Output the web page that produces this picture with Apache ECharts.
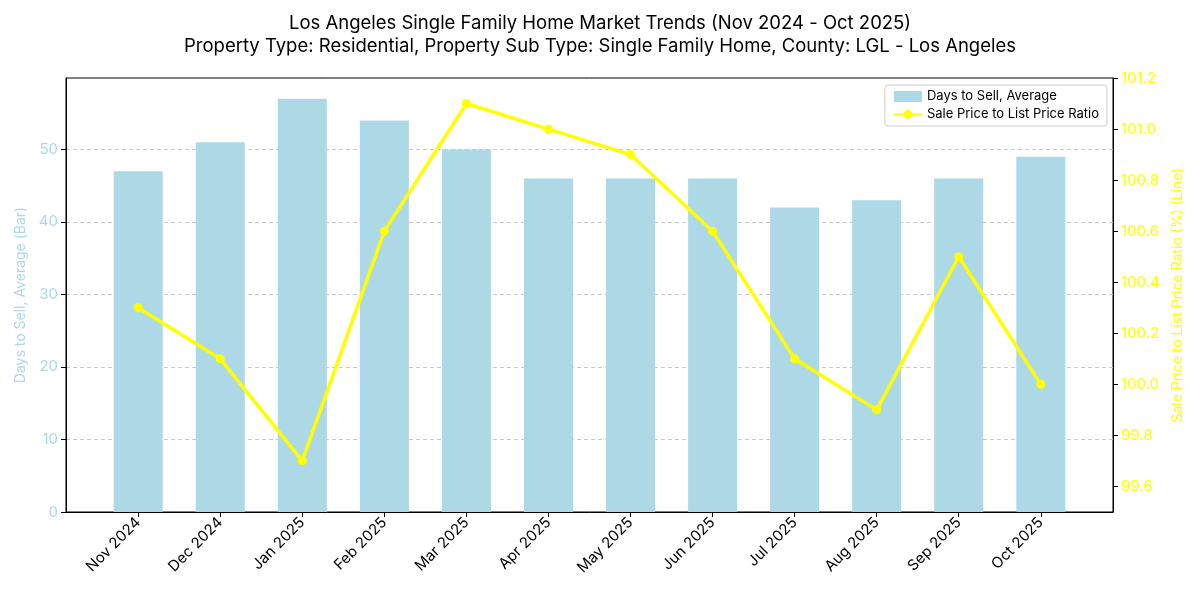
<!DOCTYPE html>
<html><head><meta charset="utf-8">
<script src="https://cdn.jsdelivr.net/npm/echarts@6/dist/echarts.min.js"></script>
<style>html,body{margin:0;padding:0;background:#fff}#c{width:1200px;height:600px}</style>
</head><body><div id="c"></div>
<script>
const categories = ['Nov 2024','Dec 2024','Jan 2025','Feb 2025','Mar 2025','Apr 2025','May 2025','Jun 2025','Jul 2025','Aug 2025','Sep 2025','Oct 2025'];
const daysToSell = [47, 51, 57, 54, 50, 46, 46, 46, 42, 43, 46, 49];
const priceRatio = [100.3, 100.1, 99.7, 100.6, 101.1, 101.0, 100.9, 100.6, 100.1, 99.9, 100.5, 100.0];
const leftTicks = [0, 10, 20, 30, 40, 50];
const rightTicks = [99.6, 99.8, 100.0, 100.2, 100.4, 100.6, 100.8, 101.0, 101.2];
const xTicks = categories.map((c, i) => i);

const FONT = 'Inter, "Open Sans", sans-serif';
const chart = echarts.init(document.getElementById('c'));
chart.setOption({
  animation: false,
  textStyle: { fontFamily: FONT },
  title: {
    text: 'Los Angeles Single Family Home Market Trends (Nov 2024 - Oct 2025)\nProperty Type: Residential, Property Sub Type: Single Family Home, County: LGL - Los Angeles',
    left: 'center', top: 7,
    textStyle: { fontSize: 18.5, fontWeight: 'normal', color: '#000', lineHeight: 23, fontFamily: FONT }
  },
  legend: {
    orient: 'vertical', right: 93, top: 85,
    backgroundColor: '#fff', borderColor: '#ccc', borderWidth: 1, borderRadius: 3,
    padding: [5, 8, 5, 8], itemGap: 5, itemWidth: 28, itemHeight: 11,
    textStyle: { fontSize: 13, color: '#000', fontFamily: FONT },
    data: [
      { name: 'Days to Sell, Average', icon: 'rect' },
      { name: 'Sale Price to List Price Ratio' }
    ]
  },
  grid: { left: 66, right: 87, top: 78, bottom: 88, show: true, borderColor: '#000', borderWidth: 1, containLabel: false },
  xAxis: {
    type: 'value', min: -0.88, max: 11.88,
    axisLine: { show: true, onZero: false, lineStyle: { color: '#000' } },
    axisTick: { show: true, length: 5, lineStyle: { color: '#000' }, customValues: xTicks },
    axisLabel: { customValues: xTicks, rotate: 45, fontSize: 15, color: '#000', margin: 8,
      formatter: v => categories[Math.round(v)] },
    splitLine: { show: false }
  },
  yAxis: [
    {
      type: 'value', min: 0, max: 59.85, position: 'left',
      name: 'Days to Sell, Average (Bar)', nameLocation: 'middle', nameGap: 38,
      nameTextStyle: { color: '#add8e6', fontSize: 14 },
      axisLine: { show: true, onZero: false, lineStyle: { color: '#000' } },
      axisTick: { show: true, length: 5, lineStyle: { color: '#000' }, customValues: leftTicks },
      axisLabel: { customValues: leftTicks, color: '#add8e6', fontSize: 15 },
      splitLine: { show: true, showMinLine: false, showMaxLine: true, lineStyle: { color: '#c8c8c8', type: [4, 3] } }
    },
    {
      type: 'value', min: 99.5, max: 101.2, position: 'right',
      name: 'Sale Price to List Price Ratio (%) (Line)', nameLocation: 'middle', nameGap: 58,
      nameTextStyle: { color: '#ffff00', fontSize: 14 },
      axisLine: { show: true, onZero: false, lineStyle: { color: '#000' } },
      axisTick: { show: true, length: 5, lineStyle: { color: '#000' }, customValues: rightTicks },
      axisLabel: { customValues: rightTicks, color: '#ffff00', fontSize: 15, formatter: v => v.toFixed(1) },
      splitLine: { show: false }
    }
  ],
  series: [
    {
      name: 'Days to Sell, Average', type: 'bar', yAxisIndex: 0, barWidth: 49,
      itemStyle: { color: '#add8e6' },
      data: daysToSell.map((v, i) => [i, v])
    },
    {
      name: 'Sale Price to List Price Ratio', type: 'line', yAxisIndex: 1,
      symbol: 'circle', symbolSize: 9,
      lineStyle: { color: '#ffff00', width: 3.5 },
      itemStyle: { color: '#ffff00' },
      data: priceRatio.map((v, i) => [i, v])
    }
  ]
});
</script>
</body></html>
